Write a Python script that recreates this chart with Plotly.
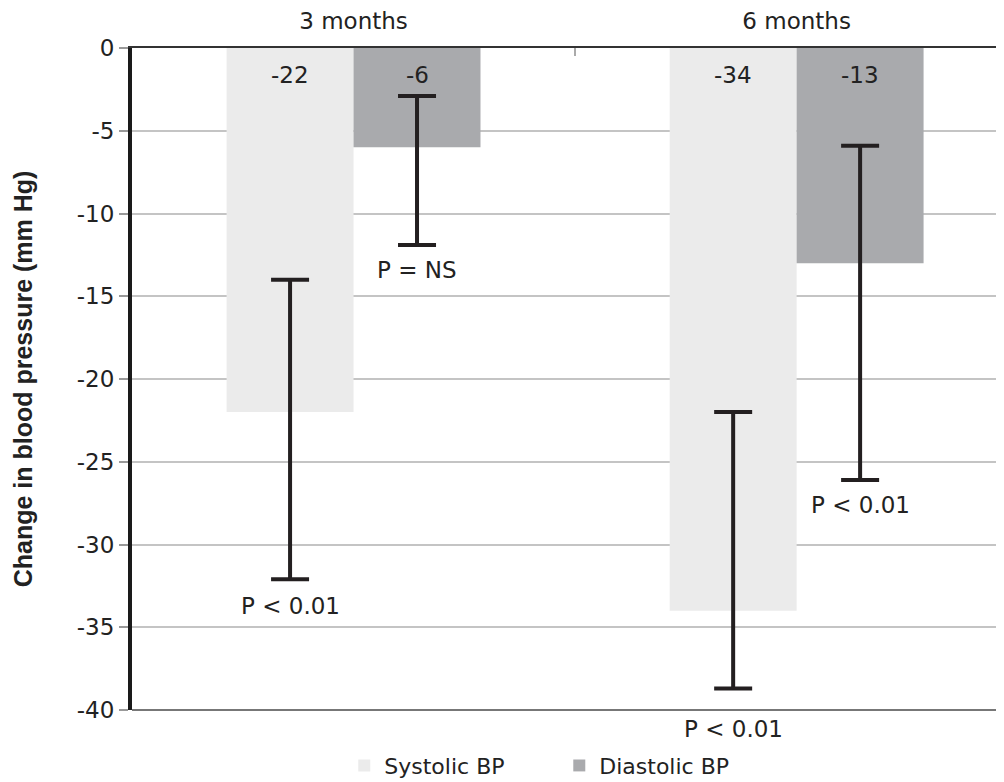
import plotly.graph_objects as go

# ---- data ----
periods = ["3 months", "6 months"]
systolic = [-22, -34]
diastolic = [-6, -13]
systolic_ci_high = [-14.0, -22.0]
systolic_ci_low = [-32.1, -38.7]
diastolic_ci_high = [-2.9, -5.9]
diastolic_ci_low = [-11.9, -26.1]
systolic_p = ["P < 0.01", "P < 0.01"]
diastolic_p = ["P = NS", "P < 0.01"]
y_ticks = [0, -5, -10, -15, -20, -25, -30, -35, -40]

# ---- style ----
SYS_COLOR = "#ebebeb"
DIA_COLOR = "#a9aaad"
TEXT = "#222222"
FONT = "DejaVu Sans"
BARGAP = 0.427
bar_w = (1 - BARGAP) / 2
sys_p_shift = [-12, -26]
dia_p_shift = [-10, -10]

def err_plus(vals, hi):
    return [h - v for v, h in zip(vals, hi)]

def err_minus(vals, lo):
    return [v - l for v, l in zip(vals, lo)]

fig = go.Figure()
fig.add_trace(go.Bar(
    x=periods, y=systolic, name="Systolic BP",
    marker=dict(color=SYS_COLOR, line=dict(width=0)),
    error_y=dict(type="data", symmetric=False,
                 array=err_plus(systolic, systolic_ci_high),
                 arrayminus=err_minus(systolic, systolic_ci_low),
                 color="#231f20", thickness=4, width=19),
))
fig.add_trace(go.Bar(
    x=periods, y=diastolic, name="Diastolic BP",
    marker=dict(color=DIA_COLOR, line=dict(width=0)),
    error_y=dict(type="data", symmetric=False,
                 array=err_plus(diastolic, diastolic_ci_high),
                 arrayminus=err_minus(diastolic, diastolic_ci_low),
                 color="#231f20", thickness=4, width=19),
))

annotations = []
for i, p in enumerate(periods):
    xs = i - bar_w / 2
    xd = i + bar_w / 2
    # value labels at the top of bars
    annotations.append(dict(x=xs, y=0, xref="x", yref="y", text=str(systolic[i]),
                            showarrow=False, yanchor="top", yshift=-12,
                            font=dict(family=FONT, size=23, color=TEXT)))
    annotations.append(dict(x=xd, y=0, xref="x", yref="y", text=str(diastolic[i]),
                            showarrow=False, yanchor="top", yshift=-12,
                            font=dict(family=FONT, size=23, color=TEXT)))
    # p-value labels below error bars
    annotations.append(dict(x=xs, y=systolic_ci_low[i], xref="x", yref="y",
                            text=systolic_p[i], showarrow=False, yanchor="top",
                            yshift=sys_p_shift[i],
                            font=dict(family=FONT, size=23, color=TEXT)))
    annotations.append(dict(x=xd, y=diastolic_ci_low[i], xref="x", yref="y",
                            text=diastolic_p[i], showarrow=False, yanchor="top",
                            yshift=dia_p_shift[i],
                            font=dict(family=FONT, size=23, color=TEXT)))

fig.update_layout(
    width=996, height=774,
    margin=dict(l=124, r=0, t=40, b=72, autoexpand=False),
    paper_bgcolor="white", plot_bgcolor="white",
    barmode="group", bargap=BARGAP, bargroupgap=0,
    font=dict(family=FONT, size=23, color=TEXT),
    showlegend=True,
    legend=dict(orientation="h", x=0.49, xanchor="center", y=-0.084, yanchor="middle",
                font=dict(family=FONT, size=22, color=TEXT), traceorder="normal",
                entrywidth=170, bgcolor="rgba(0,0,0,0)"),
    annotations=annotations,
    shapes=[dict(type="line", xref="x domain", yref="y domain", x0=0, x1=1, y0=0, y1=0,
                 line=dict(color="#777777", width=2), layer="above")],
)

fig.update_xaxes(
    type="category", categoryorder="array", categoryarray=periods,
    side="top", range=[-0.5, 1.468], automargin=False,
    showline=True, linecolor="#333333", linewidth=2,
    ticks="inside", tickson="boundaries", ticklen=8, tickwidth=2, tickcolor="#aaaaaa",
    showgrid=False, zeroline=False,
    tickfont=dict(family=FONT, size=23, color=TEXT),
    ticklabelstandoff=8,
)
fig.update_yaxes(
    range=[-40, 0], tickvals=y_ticks, ticktext=[str(v) for v in y_ticks],
    automargin=False,
    ticks="outside", ticklen=9, tickwidth=2, tickcolor="#999999",
    showgrid=True, gridcolor="#c4c4c4", gridwidth=2,
    showline=True, linecolor="#1a1a1a", linewidth=4,
    zeroline=False,
    tickfont=dict(family=FONT, size=23, color=TEXT),
    title=dict(text="Change in blood pressure (mm Hg)", standoff=38,
               font=dict(family="Liberation Sans", size=25, color=TEXT, weight="bold")),
)

fig.write_html("out.html")
